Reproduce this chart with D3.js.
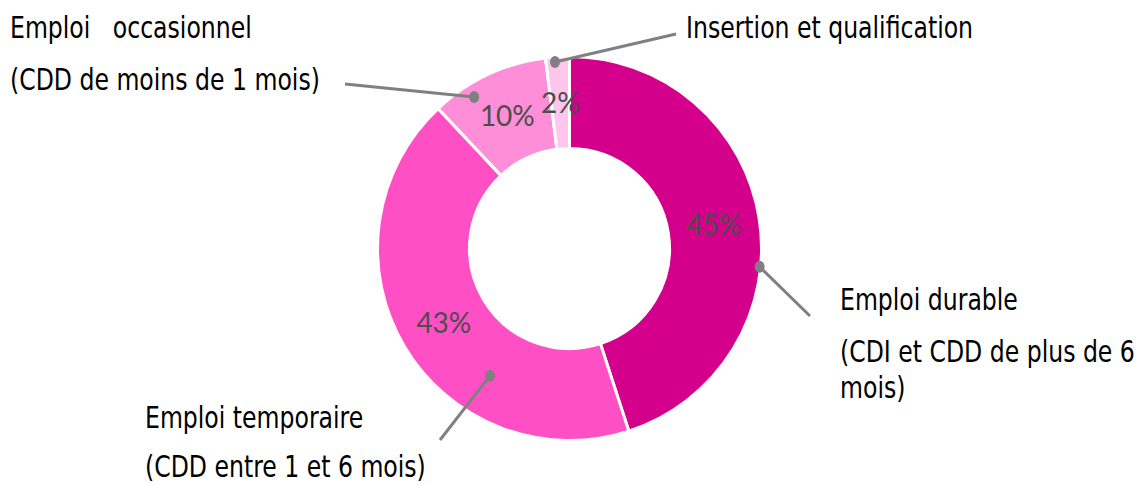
<!DOCTYPE html>
<html><head><meta charset="utf-8">
<script src="https://cdn.jsdelivr.net/npm/d3@7"></script>
<style>body{margin:0;background:#fff}svg{display:block}</style>
</head><body>
<svg id="c" width="1137" height="485"></svg>
<script>
const categories = ["Emploi durable", "Emploi temporaire", "Emploi occasionnel", "Insertion et qualification"];
const values = [45, 43, 10, 2];
const colors = ["#D4008C", "#FF4FC4", "#FF8ED8", "#FFC6EC"];
const labelLines = [
  ["Emploi durable", "(CDI et CDD de plus de 6", "mois)"],
  ["Emploi temporaire", "(CDD entre 1 et 6 mois)"],
  ["Emploi   occasionnel", "(CDD de moins de 1 mois)"],
  ["Insertion et qualification"]
];

const svg = d3.select("#c");
const cx = 569.5, cy = 248.5, R = 192, r0 = 100;
const g = svg.append("g").attr("transform", `translate(${cx},${cy})`);
const pie = d3.pie().sort(null).value(d => d);
const arcs = pie(values);
const arc = d3.arc().innerRadius(r0).outerRadius(R);
const midArc = d3.arc().innerRadius((r0 + R) / 2).outerRadius((r0 + R) / 2);

g.selectAll("path.s").data(arcs).join("path").attr("class", "s")
  .attr("d", arc).attr("fill", (d, i) => colors[i])
  .attr("stroke", "#fff").attr("stroke-width", 3).attr("stroke-linejoin", "round");

g.selectAll("text.p").data(arcs).join("text").attr("class", "p")
  .attr("transform", d => `translate(${midArc.centroid(d)})`)
  .attr("text-anchor", "middle").attr("dy", "0.35em")
  .attr("font-family", "Lato, 'Open Sans', sans-serif").attr("font-size", 28)
  .attr("fill", "#4d4d4d").text(d => Math.round(d.data) + "%");

// leader lines: anchor radius and angle offset from slice mid-angle, end point
const leaderAnchorR = [191, 150, 179, 187];
const leaderAngleOff = [0.253, -0.478, -0.122, -0.015];
const leaderEnds = [[810, 316], [440, 440], [345, 84], [676, 34]];
arcs.forEach((d, i) => {
  const a = (d.startAngle + d.endAngle) / 2 + leaderAngleOff[i];
  const rr = leaderAnchorR[i];
  const px = rr * Math.sin(a), py = -rr * Math.cos(a);
  g.append("line").attr("x1", px).attr("y1", py)
    .attr("x2", leaderEnds[i][0] - cx).attr("y2", leaderEnds[i][1] - cy)
    .attr("stroke", "#808080").attr("stroke-width", 3);
  g.append("ellipse").attr("cx", px).attr("cy", py).attr("rx", 5).attr("ry", 6).attr("fill", "#808080");
});

const labelPos = [[840, 310, [52, 36]], [145, 428, [49]], [10, 38, [52]], [686, 38, []]];
const font = "'DejaVu Sans Condensed', 'DejaVu Sans', sans-serif";
const fs = 30;
// horizontal condensation so the label font matches the narrow original face
const probe = svg.append("text").attr("font-family", font).attr("font-size", fs)
  .style("font-stretch", "condensed").text("(CDD de moins de 1 mois)");
const k = 310 / probe.node().getComputedTextLength();
probe.remove();
labelLines.forEach((lines, i) => {
  const [x, y, gaps] = labelPos[i];
  let yy = y;
  lines.forEach((t, j) => {
    if (j > 0) yy += gaps[j - 1];
    svg.append("text").attr("transform", `translate(${x},${yy}) scale(${k},1)`)
      .attr("font-family", font).attr("font-size", fs).style("font-stretch", "condensed")
      .attr("fill", "#000").style("white-space", "pre").text(t);
  });
});
</script>
</body></html>
